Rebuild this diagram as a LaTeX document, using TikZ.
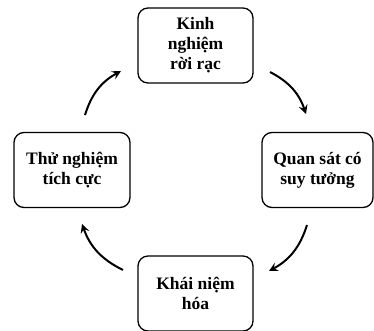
\documentclass[tikz,border=0pt]{standalone}
\usepackage{fontspec}
\setmainfont{Liberation Serif}
\usetikzlibrary{arrows.meta}
\begin{document}
\begin{tikzpicture}[x=1pt,y=-1pt,
  stagebox/.style={draw, line width=1.3pt, rounded corners=10pt, minimum width=115pt, minimum height=75pt, align=center, font=\bfseries\fontsize{17.5}{20}\selectfont, inner sep=0pt},
  cyclearrow/.style={line width=2pt, -{Stealth[length=9pt,width=9pt,inset=3.5pt]}, bend left=22}]
\useasboundingbox (0,0) rectangle (374,330);
\node[stagebox] (top) at (195.5,45.5) {Kinh\\nghiệm\\rời rạc};
\node[stagebox, minimum width=111pt] (right) at (317.5,170) {Quan sát có\\suy tưởng};
\node[stagebox, minimum width=116pt] (left) at (72,170) {Thử nghiệm\\tích cực};
\node[stagebox] (bottom) at (195.5,293.5) {Khái niệm\\hóa};
\coordinate (a1s) at (270,72);
\coordinate (a1e) at (306,114);
\coordinate (a2s) at (85,115);
\coordinate (a2e) at (121,71);
\coordinate (a3s) at (307,225);
\coordinate (a3e) at (269,271);
\coordinate (a4s) at (123,270);
\coordinate (a4e) at (82,224);
\draw[cyclearrow] (a1s) to (a1e);
\draw[cyclearrow] (a2s) to (a2e);
\draw[cyclearrow] (a3s) to (a3e);
\draw[cyclearrow] (a4s) to (a4e);
\end{tikzpicture}
\end{document}
